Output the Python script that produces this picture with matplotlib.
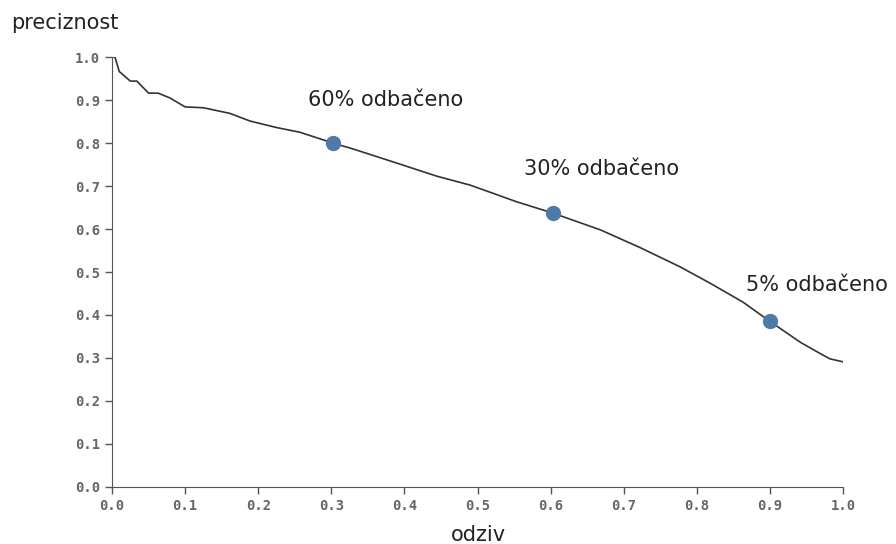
import matplotlib
matplotlib.use('Agg')
import matplotlib.pyplot as plt

# precision / recall curve
recall = [0.0, 0.004, 0.010, 0.015, 0.025, 0.034, 0.038, 0.050, 0.063, 0.079,
          0.100, 0.125, 0.161, 0.189, 0.225, 0.257, 0.302, 0.330, 0.390, 0.444,
          0.490, 0.554, 0.603, 0.668, 0.722, 0.777, 0.818, 0.863, 0.900,
          0.942, 0.969, 0.982, 1.0]
precision = [1.0, 1.0, 0.966, 0.959, 0.944, 0.944, 0.937, 0.916, 0.916, 0.905,
             0.884, 0.882, 0.869, 0.851, 0.836, 0.825, 0.800, 0.786, 0.753, 0.723,
             0.702, 0.663, 0.637, 0.598, 0.557, 0.512, 0.474, 0.430, 0.385,
             0.336, 0.310, 0.298, 0.291]

# threshold points
pt_recall = [0.302, 0.603, 0.900]
pt_precision = [0.800, 0.637, 0.385]
pt_labels = ['60% odbačeno', '30% odbačeno', '5% odbačeno']

ticks = [0.0, 0.1, 0.2, 0.3, 0.4, 0.5, 0.6, 0.7, 0.8, 0.9, 1.0]


def main():
    fig = plt.figure(figsize=(8.96, 5.44), dpi=100)
    ax = fig.add_axes([0.125, 0.1048, 0.816, 0.7904])

    ax.plot(recall, precision, color='#333333', linewidth=1.2)
    ax.scatter(pt_recall, pt_precision, s=100, color='#4f79a8', zorder=3)

    # labels sit up and to the right of each point (offsets in points)
    offsets = [(-18, 31), (-21, 32), (-17, 26)]
    for x, y, lab, off in zip(pt_recall, pt_precision, pt_labels, offsets):
        ax.annotate(lab, xy=(x, y), xytext=off, textcoords='offset points',
                    ha='left', va='center', fontsize=15, color='#222222')

    ax.set_xlim(0, 1)
    ax.set_ylim(0, 1)
    ax.set_xticks(ticks)
    ax.set_yticks(ticks)
    ax.set_xticklabels(['%.1f' % t for t in ticks])
    ax.set_yticklabels(['%.1f' % t for t in ticks])
    for lab in ax.get_xticklabels() + ax.get_yticklabels():
        lab.set_family('DejaVu Sans Mono')
        lab.set_fontweight('bold')
    ax.tick_params(direction='out', length=5, width=1, colors='#555555',
                   labelsize=10, labelcolor='#666666')
    ax.spines['top'].set_visible(False)
    ax.spines['right'].set_visible(False)
    for s in ('left', 'bottom'):
        ax.spines[s].set_color('#555555')

    fig.text(0.012, 0.958, 'preciznost', fontsize=15, color='#222222', va='center')
    fig.text(0.534, 0.016, 'odziv', fontsize=15, color='#222222', ha='center', va='center')

    fig.savefig('out.png', dpi=100)


if __name__ == "__main__":
    main()
